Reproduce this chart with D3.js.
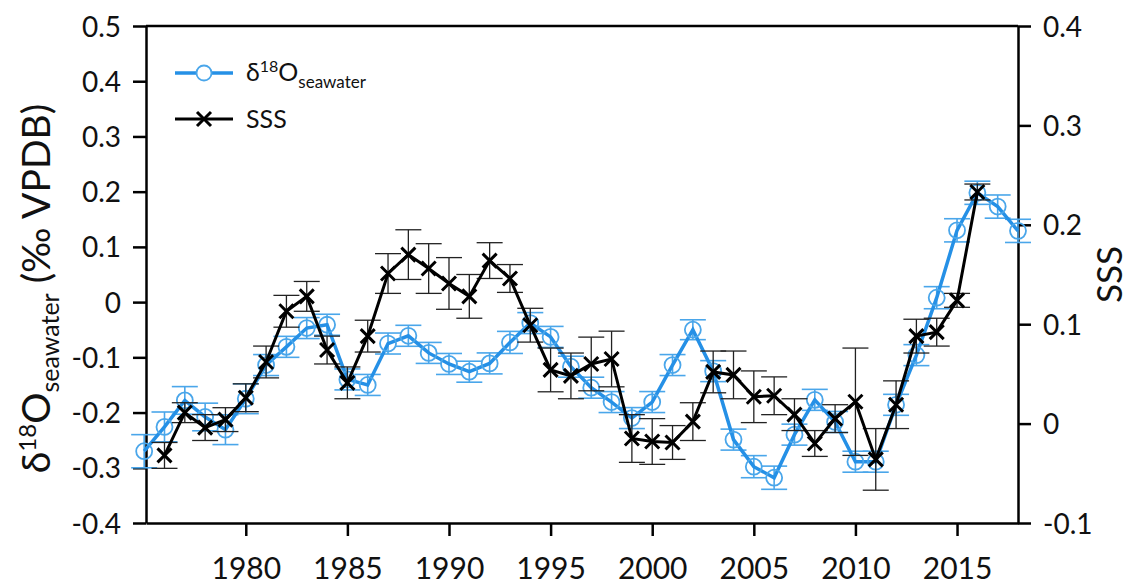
<!DOCTYPE html>
<html>
<head>
<meta charset="utf-8">
<script src="https://cdn.jsdelivr.net/npm/d3@7"></script>
<style>
  body { margin: 0; background: #fff; }
  svg { display: block; }
  text { font-family: Lato, "Open Sans", sans-serif; fill: #111; }
</style>
</head>
<body>
<div id="chart"></div>
<script>
// δ18O seawater (left axis), one value per year
var d18oYears = [1975, 1976, 1977, 1978, 1979, 1980, 1981, 1982, 1983, 1984, 1985,
  1986, 1987, 1988, 1989, 1990, 1991, 1992, 1993, 1994, 1995, 1996, 1997, 1998,
  1999, 2000, 2001, 2002, 2003, 2004, 2005, 2006, 2007, 2008, 2009, 2010, 2011,
  2012, 2013, 2014, 2015, 2016, 2017, 2018];
var d18oValues = [-0.270, -0.226, -0.178, -0.208, -0.231, -0.175, -0.114, -0.081, -0.047, -0.041, -0.140,
  -0.150, -0.075, -0.061, -0.092, -0.112, -0.126, -0.111, -0.073, -0.038, -0.063, -0.117, -0.155, -0.181,
  -0.210, -0.181, -0.114, -0.050, -0.125, -0.249, -0.298, -0.318, -0.240, -0.177, -0.217, -0.289, -0.289,
  -0.186, -0.096, 0.008, 0.130, 0.198, 0.173, 0.129];
var d18oErrors = [0.030, 0.027, 0.025, 0.025, 0.027, 0.027, 0.019, 0.019, 0.019, 0.019, 0.019,
  0.019, 0.019, 0.019, 0.019, 0.019, 0.019, 0.019, 0.020, 0.019, 0.019, 0.019, 0.019, 0.019,
  0.019, 0.019, 0.019, 0.018, 0.019, 0.019, 0.020, 0.021, 0.019, 0.019, 0.019, 0.019, 0.019,
  0.019, 0.019, 0.020, 0.021, 0.021, 0.021, 0.021];

// SSS (right axis)
var sssYears = [1976, 1977, 1978, 1979, 1980, 1981, 1982, 1983, 1984, 1985, 1986,
  1987, 1988, 1989, 1990, 1991, 1992, 1993, 1994, 1995, 1996, 1997, 1998, 1999,
  2000, 2001, 2002, 2003, 2004, 2005, 2006, 2007, 2008, 2009, 2010, 2011, 2012,
  2013, 2014, 2015, 2016];
var sssValues = [-0.032, 0.011, -0.004, 0.004, 0.026, 0.062, 0.113, 0.128, 0.074, 0.041, 0.088,
  0.151, 0.170, 0.156, 0.141, 0.128, 0.164, 0.146, 0.099, 0.054, 0.048, 0.060, 0.065, -0.015,
  -0.018, -0.019, 0.002, 0.052, 0.049, 0.027, 0.028, 0.009, -0.020, 0.005, 0.022, -0.036, 0.019,
  0.088, 0.092, 0.124, 0.233];
var sssErrors = [0.013, 0.010, 0.013, 0.012, 0.014, 0.016, 0.016, 0.015, 0.014, 0.016, 0.016,
  0.020, 0.025, 0.025, 0.026, 0.022, 0.018, 0.014, 0.017, 0.022, 0.023, 0.027, 0.028, 0.024,
  0.023, 0.017, 0.019, 0.021, 0.024, 0.026, 0.019, 0.016, 0.013, 0.014, 0.054, 0.031, 0.024,
  0.017, 0.014, 0.007, 0.008];

var yearTicks = [1980, 1985, 1990, 1995, 2000, 2005, 2010, 2015];
var leftTicks = [-0.4, -0.3, -0.2, -0.1, 0, 0.1, 0.2, 0.3, 0.4, 0.5];
var rightTicks = [-0.1, 0, 0.1, 0.2, 0.3, 0.4];

var width = 1131, height = 587;
var margin = { top: 26, right: 113, bottom: 64, left: 146 };
var blue = "#2590e6", blueLight = "#4aa6ea";

var svg = d3.select("#chart").append("svg")
  .attr("width", width)
  .attr("height", height);

var x = d3.scaleLinear().domain([1975.09, 2018]).range([margin.left, width - margin.right]);
var yL = d3.scaleLinear().domain([-0.4, 0.5]).range([height - margin.bottom, margin.top]);
var yR = d3.scaleLinear().domain([-0.1, 0.4]).range([height - margin.bottom, margin.top]);

function fmt(d) {
  if (Math.abs(d) < 1e-9) return "0";
  return d.toFixed(1);
}

var d18o = d18oYears.map(function(yr, i) { return { x: yr, y: d18oValues[i], e: d18oErrors[i] }; });
var sss = sssYears.map(function(yr, i) { return { x: yr, y: sssValues[i], e: sssErrors[i] }; });

// Frame + axes
svg.append("line")
  .attr("x1", margin.left).attr("x2", width - margin.right)
  .attr("y1", margin.top).attr("y2", margin.top)
  .attr("stroke", "#000").attr("stroke-width", 2.5);

var xAxis = svg.append("g")
  .attr("transform", "translate(0," + (height - margin.bottom) + ")")
  .call(d3.axisBottom(x).tickValues(yearTicks).tickFormat(d3.format("d")).tickSize(13).tickSizeOuter(0).tickPadding(22));
var leftAxis = svg.append("g")
  .attr("transform", "translate(" + margin.left + ",0)")
  .call(d3.axisLeft(yL).tickValues(leftTicks).tickFormat(fmt).tickSize(13).tickSizeOuter(0).tickPadding(12));
var rightAxis = svg.append("g")
  .attr("transform", "translate(" + (width - margin.right) + ",0)")
  .call(d3.axisRight(yR).tickValues(rightTicks).tickFormat(fmt).tickSize(13).tickSizeOuter(0).tickPadding(12));

[xAxis, leftAxis, rightAxis].forEach(function(g) {
  g.select(".domain").attr("stroke", "#000").attr("stroke-width", 2.5);
  g.selectAll(".tick line").attr("stroke", "#000").attr("stroke-width", 2.5);
  g.selectAll(".tick text").attr("fill", "#111").style("font-family", "Lato, 'Open Sans', sans-serif");
});
xAxis.selectAll(".tick text").style("font-size", "30px");
leftAxis.selectAll(".tick text").style("font-size", "28px").attr("dy", "0.36em");
rightAxis.selectAll(".tick text").style("font-size", "28px").attr("dy", "0.36em");

// δ18O series (blue)
var blueG = svg.append("g");
blueG.selectAll("g.err").data(d18o).enter().append("g")
  .attr("stroke", blueLight).attr("stroke-width", 1.6)
  .each(function(d) {
    var g = d3.select(this), cx = x(d.x), y0 = yL(d.y - d.e), y1 = yL(d.y + d.e);
    g.append("line").attr("x1", cx).attr("x2", cx).attr("y1", y0).attr("y2", y1);
    g.append("line").attr("x1", cx - 13).attr("x2", cx + 13).attr("y1", y0).attr("y2", y0);
    g.append("line").attr("x1", cx - 13).attr("x2", cx + 13).attr("y1", y1).attr("y2", y1);
  });
blueG.append("path").datum(d18o)
  .attr("fill", "none").attr("stroke", blue).attr("stroke-width", 3.5)
  .attr("d", d3.line().x(function(d) { return x(d.x); }).y(function(d) { return yL(d.y); }));
blueG.selectAll("circle").data(d18o).enter().append("circle")
  .attr("cx", function(d) { return x(d.x); })
  .attr("cy", function(d) { return yL(d.y); })
  .attr("r", 8)
  .attr("fill", "none").attr("stroke", blueLight).attr("stroke-width", 1.8);

// SSS series (black)
var blackG = svg.append("g");
blackG.selectAll("g.err").data(sss).enter().append("g")
  .attr("stroke", "#222").attr("stroke-width", 1.3)
  .each(function(d) {
    var g = d3.select(this), cx = x(d.x), y0 = yR(d.y - d.e), y1 = yR(d.y + d.e);
    g.append("line").attr("x1", cx).attr("x2", cx).attr("y1", y0).attr("y2", y1);
    g.append("line").attr("x1", cx - 13).attr("x2", cx + 13).attr("y1", y0).attr("y2", y0);
    g.append("line").attr("x1", cx - 13).attr("x2", cx + 13).attr("y1", y1).attr("y2", y1);
  });
blackG.append("path").datum(sss)
  .attr("fill", "none").attr("stroke", "#000").attr("stroke-width", 3)
  .attr("d", d3.line().x(function(d) { return x(d.x); }).y(function(d) { return yR(d.y); }));
blackG.selectAll("path.cross").data(sss).enter().append("path")
  .attr("class", "cross")
  .attr("transform", function(d) { return "translate(" + x(d.x) + "," + yR(d.y) + ")"; })
  .attr("d", "M-7,-7L7,7M-7,7L7,-7")
  .attr("stroke", "#000").attr("stroke-width", 3).attr("fill", "none");

// Legend
var leg = svg.append("g");
leg.append("line").attr("x1", 175).attr("x2", 233).attr("y1", 73).attr("y2", 73)
  .attr("stroke", blue).attr("stroke-width", 3.5);
leg.append("circle").attr("cx", 204).attr("cy", 73).attr("r", 7.5)
  .attr("fill", "#fff").attr("stroke", blueLight).attr("stroke-width", 1.8);
var t1 = leg.append("text").attr("x", 246).attr("y", 81).style("font-size", "25px");
t1.append("tspan").text("δ");
t1.append("tspan").attr("dy", -9).style("font-size", "16px").text("18");
t1.append("tspan").attr("dy", 9).text("O");
t1.append("tspan").attr("dy", 7).style("font-size", "17px").text("seawater");

leg.append("line").attr("x1", 175).attr("x2", 233).attr("y1", 119).attr("y2", 119)
  .attr("stroke", "#000").attr("stroke-width", 3);
leg.append("path").attr("transform", "translate(204,119)")
  .attr("d", "M-7,-7L7,7M-7,7L7,-7")
  .attr("stroke", "#000").attr("stroke-width", 3);
leg.append("text").attr("x", 246).attr("y", 128).style("font-size", "25px").text("SSS");

// Axis titles
var lt = svg.append("text")
  .attr("transform", "translate(50," + ((margin.top + height - margin.bottom) / 2 + 14) + ") rotate(-90)")
  .attr("text-anchor", "middle")
  .style("font-size", "39px");
lt.append("tspan").text("δ");
lt.append("tspan").attr("dy", -14).style("font-size", "24px").text("18");
lt.append("tspan").attr("dy", 14).text("O");
lt.append("tspan").attr("dy", 9).style("font-size", "25px").text("seawater");
lt.append("tspan").attr("dy", -9).text(" (‰ VPDB)");

svg.append("text")
  .attr("transform", "translate(1122," + ((margin.top + height - margin.bottom) / 2) + ") rotate(-90)")
  .attr("text-anchor", "middle")
  .style("font-size", "35px")
  .text("SSS");
</script>
</body>
</html>
